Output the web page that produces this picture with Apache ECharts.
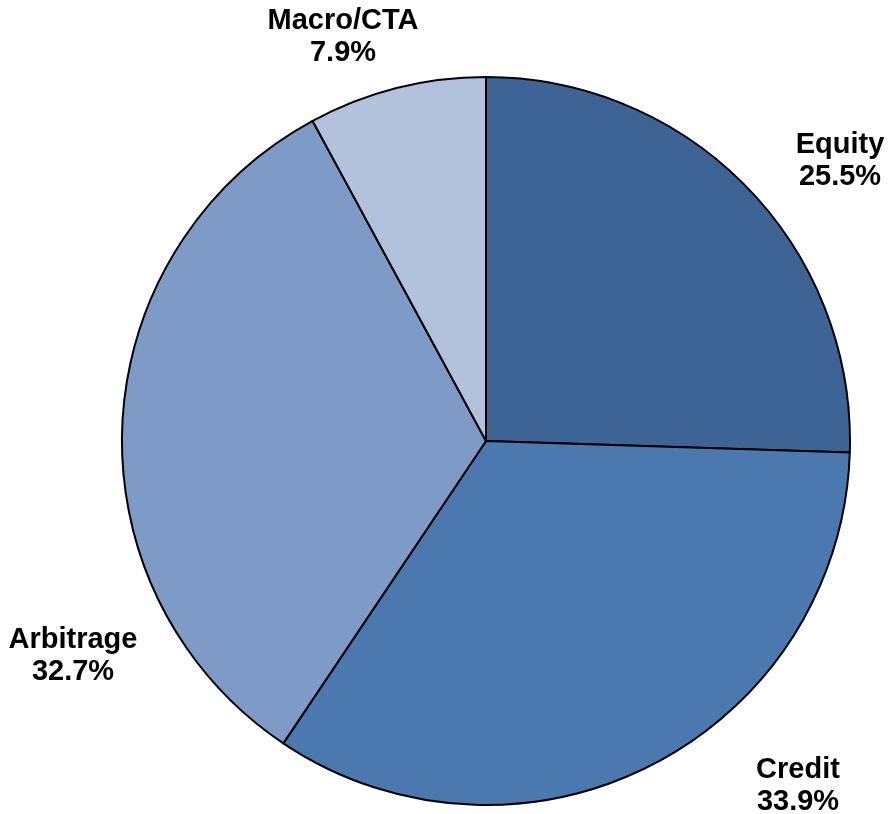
<!DOCTYPE html>
<html>
<head>
<meta charset="utf-8">
<title>Strategy allocation</title>
<script src="https://cdn.jsdelivr.net/npm/echarts@6/dist/echarts.min.js"></script>
<style>
  html, body { margin: 0; padding: 0; background: #fff; }
  #main { width: 893px; height: 814px; }
</style>
</head>
<body>
<div id="main"></div>
<script>
// slices, clockwise from 12 o'clock
const strategies = ['Equity', 'Credit', 'Arbitrage', 'Macro/CTA']
const shares = [25.5, 33.9, 32.7, 7.9]
const sliceColors = ['#3e6495', '#4a78af', '#7e9bc7', '#b3c2dc']

// where each label block sits (centre of the two lines)
const labelSpots = [[840, 161], [798, 786], [73, 656], [343, 37]]

const chart = echarts.init(document.getElementById('main'))

const option = {
  animation: false,
  series: [
    {
      type: 'pie',
      center: [486, 441],
      radius: 364,
      startAngle: 90,
      clockwise: true,
      data: strategies.map((name, i) => ({
        name: name,
        value: shares[i],
        itemStyle: { color: sliceColors[i] }
      })),
      itemStyle: {
        borderColor: '#000',
        borderWidth: 2
      },
      label: {
        show: true,
        position: 'inside',
        formatter: p => p.name + '\n' + p.value.toFixed(1) + '%',
        fontFamily: 'Liberation Sans, Arial, sans-serif',
        fontWeight: 'bold',
        fontSize: 29,
        lineHeight: 32,
        color: '#000',
        align: 'center'
      },
      labelLine: { show: false },
      labelLayout: params => ({
        x: labelSpots[params.dataIndex][0],
        y: labelSpots[params.dataIndex][1],
        align: 'center',
        verticalAlign: 'middle'
      }),
      emphasis: { disabled: true }
    }
  ]
}

chart.setOption(option)
</script>
</body>
</html>
